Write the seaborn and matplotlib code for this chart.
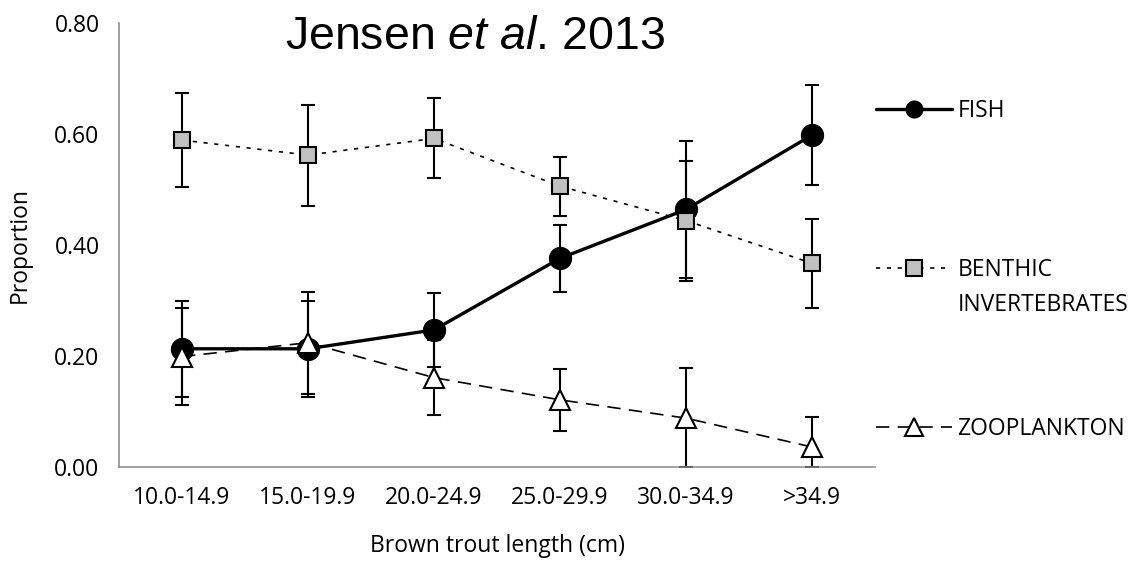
import numpy as np
import pandas as pd
import matplotlib
matplotlib.use("Agg")
import matplotlib.pyplot as plt
from matplotlib.lines import Line2D
import seaborn as sns

lengths = ["10.0-14.9", "15.0-19.9", "20.0-24.9", "25.0-29.9", "30.0-34.9", ">34.9"]
fish = [0.213, 0.213, 0.247, 0.376, 0.464, 0.598]
fish_err = [0.086, 0.087, 0.066, 0.060, 0.123, 0.090]
benthic = [0.589, 0.562, 0.592, 0.506, 0.444, 0.367]
benthic_err = [0.085, 0.091, 0.072, 0.053, 0.108, 0.080]
zoo = [0.199, 0.224, 0.161, 0.121, 0.088, 0.036]
zoo_err = [0.087, 0.092, 0.067, 0.056, 0.090, 0.054]
yticks = [0.0, 0.2, 0.4, 0.6, 0.8]

sns.set_style("white")
plt.rcParams["font.family"] = ["Open Sans", "DejaVu Sans"]
plt.rcParams["text.color"] = "black"
plt.rcParams["xtick.labelcolor"] = "black"
plt.rcParams["ytick.labelcolor"] = "black"
plt.rcParams["mathtext.fontset"] = "custom"
plt.rcParams["mathtext.rm"] = "Liberation Sans"
plt.rcParams["mathtext.it"] = "Liberation Sans:italic"

FS = 16.5
df = pd.DataFrame({"length": lengths, "fish": fish, "benthic": benthic, "zoo": zoo})
x = np.arange(len(lengths))

fig = plt.figure(figsize=(11.36, 5.72), dpi=100)
ax = fig.add_axes([119 / 1136, 1 - 467 / 572, 756 / 1136, 444 / 572])

# error bars first, markers on top
eb = dict(fmt="none", ecolor="black", elinewidth=1.5, capsize=5, capthick=1.5, zorder=2)
ax.errorbar(x, fish, yerr=fish_err, **eb)
ax.errorbar(x, benthic, yerr=benthic_err, **eb)
zoo_low = np.minimum(zoo, zoo_err)
ax.errorbar(x, zoo, yerr=[zoo_low, zoo_err], **eb)

sns.lineplot(data=df, x="length", y="fish", ax=ax, color="black", lw=2.4,
             marker="o", markersize=16, markerfacecolor="black", markeredgecolor="black",
             sort=False, zorder=3)
sns.lineplot(data=df, x="length", y="benthic", ax=ax, color="black", lw=1.2,
             linestyle=(0, (2.5, 4)), marker="s", markersize=12,
             markerfacecolor="#c0c0c0", markeredgecolor="black", markeredgewidth=1.5,
             sort=False, zorder=4)
sns.lineplot(data=df, x="length", y="zoo", ax=ax, color="black", lw=1.2,
             linestyle=(0, (8, 5)), marker="^", markersize=14,
             markerfacecolor="white", markeredgecolor="black", markeredgewidth=1.5,
             sort=False, zorder=5)

ax.set_xlim(-0.5, len(lengths) - 0.5)
ax.set_ylim(0, 0.8)
ax.set_yticks(yticks)
ax.set_yticklabels([f"{v:.2f}" for v in yticks])
ax.set_xticks(x)
ax.set_xticklabels(lengths)
ax.set_xticks(np.arange(-0.5, len(lengths)), minor=True)
ax.set_xlabel("")
ax.set_ylabel("")

sns.despine(ax=ax)
for s in ["left", "bottom"]:
    ax.spines[s].set_color("#888888")
    ax.spines[s].set_linewidth(1.1)
ax.tick_params(axis="y", direction="in", length=6.5, width=1.1, color="#888888",
               labelsize=FS, pad=14)
ax.tick_params(axis="x", which="major", length=0, labelsize=FS, pad=14)
ax.tick_params(axis="x", which="minor", direction="in", length=6, width=1.1, color="#888888")

fig.text(20 / 1136, 1 - 245 / 572, "Proportion", rotation=90, ha="center", va="center", fontsize=FS)
fig.text(497 / 1136, 1 - 546 / 572, "Brown trout length (cm)", ha="center", va="center", fontsize=FS)
fig.text(475 / 1136, 1 - 49 / 572, r"Jensen $\mathit{et\ al}$. 2013", ha="center", va="baseline",
         fontsize=33.5, family=["Liberation Sans", "DejaVu Sans"])

handles = [
    Line2D([], [], color="black", lw=2.4, marker="o", markersize=12),
    Line2D([], [], color="black", lw=1.2, linestyle=(0, (2.5, 4)), marker="s", markersize=11,
           markerfacecolor="#c0c0c0", markeredgecolor="black", markeredgewidth=1.5),
    Line2D([], [], color="black", lw=1.2, linestyle=(0, (8, 5)), marker="^", markersize=13,
           markerfacecolor="white", markeredgecolor="black", markeredgewidth=1.5),
]
leg = fig.legend(handles, ["FISH", "BENTHIC", "ZOOPLANKTON"], loc="center left",
                 bbox_to_anchor=(876 / 1136, 1 - 270 / 572), frameon=False, fontsize=FS,
                 borderpad=0, borderaxespad=0, handlelength=3.3, handletextpad=0.25,
                 labelspacing=5.9, numpoints=1)

fig.canvas.draw()
t = leg.get_texts()[1]
bb = t.get_window_extent()
fig.text(bb.x0 / fig.bbox.width, (bb.y0 + bb.y1) / 2 / fig.bbox.height - 35 / 572,
         "INVERTEBRATES", ha="left", va="center", fontsize=FS)

fig.savefig("out.png", dpi=100)
